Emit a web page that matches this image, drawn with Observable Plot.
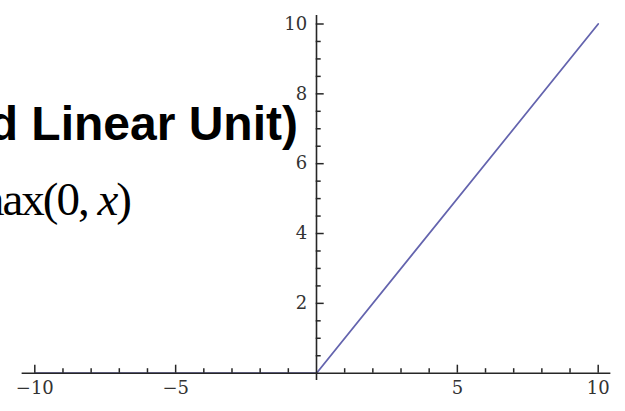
<!DOCTYPE html>
<html>
<head>
<meta charset="utf-8">
<script src="https://cdn.jsdelivr.net/npm/d3@7"></script>
<script src="https://cdn.jsdelivr.net/npm/@observablehq/plot@0.6"></script>
<style>
  html, body { margin: 0; padding: 0; background: #fff; }
  svg { display: block; }
</style>
</head>
<body>
<script>
// ReLU: f(x) = max(0, x), sampled at its breakpoints
const xValues = [-10, 0, 10];
const reluValues = [0, 0, 10];

// Axis ticks and extents (data units)
const xMajorTicks = [-10, -5, 5, 10];
const xMinorTicks = [-9, -8, -7, -6, -4, -3, -2, -1, 1, 2, 3, 4, 6, 7, 8, 9];
const yMajorTicks = [2, 4, 6, 8, 10];
const yMinorTicks = [0.5, 1, 1.5, 2.5, 3, 3.5, 4.5, 5, 5.5, 6.5, 7, 7.5, 8.5, 9, 9.5];
const xAxisExtent = [-10.45, 10.45];
const yAxisExtent = [-0.21, 10.24];

const titleText = "ReLU (Rectified Linear Unit)";
const formulaParts = [["f(", false], ["x", true], [") = max(0, ", false], ["x", true], [")", false]];

const points = xValues.map((x, i) => ({x, y: reluValues[i]}));

const W = 625, H = 411;
const axisColor = "#262626";
const labelColor = "#333";

const chart = Plot.plot({
  width: W,
  height: H,
  marginLeft: 315.7,
  marginRight: 20,
  marginTop: 23.5,
  marginBottom: 38.3,
  x: {domain: [-10, 10], range: [34.3, 597.7]},
  y: {domain: [0, 10]},
  style: {fontFamily: "DejaVu Serif", background: "#fff"},
  marks: [
    Plot.line(points, {x: "x", y: "y", stroke: "#6464ae", strokeWidth: 1.8}),
    Plot.ruleY([0], {x1: xAxisExtent[0], x2: xAxisExtent[1], stroke: axisColor, strokeWidth: 1.6}),
    Plot.ruleX([0], {y1: yAxisExtent[0], y2: yAxisExtent[1], stroke: axisColor, strokeWidth: 1.6}),
    // inward-pointing ticks
    Plot.axisX({ticks: xMajorTicks, tickSize: -8, tickFormat: () => "", label: null, stroke: axisColor, strokeWidth: 1.5}),
    Plot.axisX({ticks: xMinorTicks, tickSize: -4.5, tickFormat: () => "", label: null, stroke: axisColor, strokeWidth: 1.5}),
    Plot.axisY({ticks: yMajorTicks, tickSize: -8, tickFormat: () => "", label: null, stroke: axisColor, strokeWidth: 1.5}),
    Plot.axisY({ticks: yMinorTicks, tickSize: -5, tickFormat: () => "", label: null, stroke: axisColor, strokeWidth: 1.5}),
    // tick labels
    Plot.axisX({ticks: xMajorTicks, tickSize: 0, tickPadding: 8, label: null, fill: labelColor}),
    Plot.axisY({ticks: yMajorTicks, tickSize: 0, tickPadding: 9, label: null, fill: labelColor})
  ]
});

const svg = d3.select(chart);

// larger serif tick labels
svg.selectAll("text")
  .filter(function () { return this.textContent.trim() !== ""; })
  .style("font-family", "'DejaVu Serif', serif")
  .style("font-size", "18px");

svg.append("text")
  .attr("x", 298)
  .attr("y", 140)
  .attr("text-anchor", "end")
  .style("font-family", "'Liberation Sans', Arial, sans-serif")
  .style("font-weight", "bold")
  .style("font-size", "48px")
  .attr("fill", "#000")
  .text(titleText);

const formula = svg.append("text")
  .attr("x", 130)
  .attr("y", 215)
  .attr("text-anchor", "end")
  .style("font-family", "'Liberation Serif', 'Times New Roman', serif")
  .style("font-size", "47px")
  .style("letter-spacing", "-2px")
  .attr("fill", "#000");
formulaParts.forEach(([t, italic]) => {
  formula.append("tspan").style("font-style", italic ? "italic" : "normal").text(t);
});

document.body.appendChild(chart);
</script>
</body>
</html>
